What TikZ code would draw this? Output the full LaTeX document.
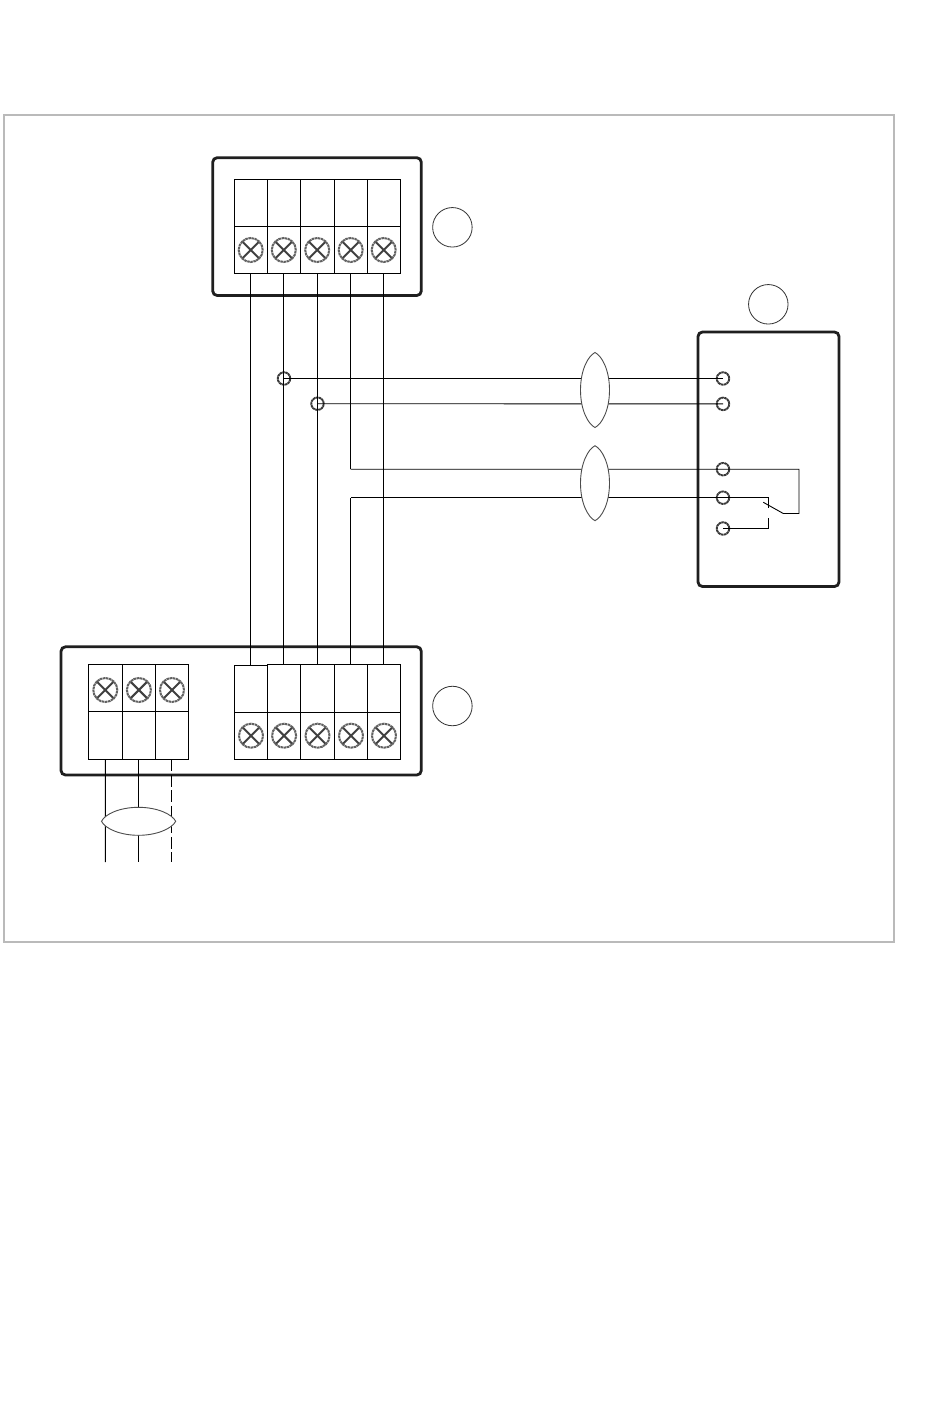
\documentclass[tikz,border=0pt]{standalone}
\usetikzlibrary{shapes.geometric}
\tikzset{
  framebox/.style={draw=black!27,line width=2pt},
  housing/.style={draw=black!88,line width=2.8pt,rounded corners=4.5pt},
  cellbox/.style={draw=black,line width=.9pt,rectangle,inner sep=0pt,outer sep=0pt},
  tcell/.style={cellbox,minimum height=46.7pt},
  wire/.style={draw=black,line width=.9pt},
  dashwire/.style={wire,dash pattern=on 12pt off 3.5pt},
  refcircle/.style={circle,draw=black!80,line width=.8pt,minimum size=39.5pt,inner sep=0pt},
  screwhead/.style={circle,draw=black!62,line width=2pt,dash pattern=on 2.5pt off .6pt,minimum size=24pt,inner sep=0pt,
    path picture={
      \draw[black!75,line width=2pt,solid] (path picture bounding box.north west)++(3.5pt,-3.5pt) -- ([shift={(-3.5pt,3.5pt)}]path picture bounding box.south east);
      \draw[black!75,line width=2pt,solid] (path picture bounding box.north east)++(-3.5pt,-3.5pt) -- ([shift={(3.5pt,3.5pt)}]path picture bounding box.south west);
    }},
  terminal/.style={circle,draw=black!78,line width=1.9pt,dash pattern=on 2.5pt off .5pt,minimum size=12.5pt,inner sep=0pt},
  lens/.style={draw=black!70,line width=.9pt,fill=white},
}
\newcommand{\vlens}[2]{%
  \path[lens] (#1,#2-37.5) .. controls (#1-7,#2-34) and (#1-14.5,#2-20) .. (#1-14.5,#2)
    .. controls (#1-14.5,#2+20) and (#1-7,#2+34) .. (#1,#2+37.5)
    .. controls (#1+7,#2+34) and (#1+14.5,#2+20) .. (#1+14.5,#2)
    .. controls (#1+14.5,#2-20) and (#1+7,#2-34) .. (#1,#2-37.5) -- cycle;}
\begin{document}
\begin{tikzpicture}[x=1pt,y=-1pt]
\useasboundingbox (0,0) rectangle (950,1409);
\fill[white] (0,0) rectangle (950,1409);
% outer frame
\draw[framebox] (3.7,114.7) rectangle (893.7,942);
% housings
\draw[housing] (212.7,157.7) rectangle (421.3,295.5);
\draw[housing] (61,646.8) rectangle (421.3,775);
\draw[housing] (698,332) rectangle (839,586.5);
% reference circles
\node[refcircle] (refA) at (452.4,227.3) {};
\node[refcircle] (refB) at (768.3,304.3) {};
\node[refcircle] (refC) at (452.4,706) {};
% top block
\foreach \n/\c/\w in {1/251/33.4,2/284.1/32.8,3/317.5/34,4/351/33,5/384/33}{
  \node[tcell,minimum width=\w pt] (ta\n) at (\c,203) {};
  \node[tcell,minimum width=\w pt] (tb\n) at (\c,249.8) {};
  \node[screwhead] (ts\n) at (\c-.3,250) {};
}
% bottom right block
\node[cellbox,minimum width=33.4pt,minimum height=46.7pt] (ba1) at (251,688.7) {};
\foreach \n/\c/\w in {2/284.1/32.8,3/317.5/34,4/351/33,5/384/33}{
  \node[cellbox,minimum width=\w pt,minimum height=47.7pt] (ba\n) at (\c,688.2) {};
}
\foreach \n/\c/\w in {1/251/33.4,2/284.1/32.8,3/317.5/34,4/351/33,5/384/33}{
  \node[cellbox,minimum width=\w pt,minimum height=47.3pt] (bb\n) at (\c,735.7) {};
  \node[screwhead] (bs\n) at (\c,735.7) {};
}
% bottom left block
\foreach \n/\c/\w in {1/105.3/34,2/138.9/33.2,3/172/33}{
  \node[cellbox,minimum width=\w pt,minimum height=47.2pt] (la\n) at (\c,687.9) {};
  \node[cellbox,minimum width=\w pt,minimum height=47.8pt] (lb\n) at (\c,735.4) {};
  \node[screwhead] (ls\n) at (\c,690) {};
}
% named free ends
\coordinate (w4a) at (350.6,469.2);
\coordinate (w4b) at (350.6,497.7);
\coordinate (t1a) at (250.6,273.3);
\coordinate (t2a) at (283.6,273.3);
\coordinate (t3a) at (317,273.3);
\coordinate (t4a) at (350.6,273.3);
\coordinate (t5a) at (383.6,273.3);
\coordinate (b1a) at (250.6,665.3);
\coordinate (b2a) at (283.6,664.3);
\coordinate (b3a) at (317,664.3);
\coordinate (b4a) at (350.6,664.3);
\coordinate (b5a) at (383.6,664.3);
% terminals
\node[terminal] (j1) at (284,378.5) {};
\node[terminal] (j2) at (317.5,403.7) {};
\node[terminal] (r1) at (723,378.5) {};
\node[terminal] (r2) at (723,403.9) {};
\node[terminal] (r3) at (723,469.2) {};
\node[terminal] (r4) at (723,497.7) {};
\node[terminal] (r5) at (723,528.5) {};
% vertical wires
\draw[wire] (t1a) -- (b1a);
\draw[wire] (t2a) -- (b2a);
\draw[wire] (t3a) -- (b3a);
\draw[wire] (t5a) -- (b5a);
\draw[wire] (t4a) -- (w4a);
\draw[wire] (b4a) -- (w4b);
% horizontal wires
\draw[wire] (j1.center) -- (r1.center);
\draw[wire] (j2.center) -- (r2.center);
\coordinate (sw1) at (799,469.2);
\coordinate (sw2) at (799,513.5);
\coordinate (sw3) at (783.3,513.5);
\coordinate (sw4) at (763.3,502.3);
\coordinate (sw5) at (768.7,497.7);
\coordinate (sw6) at (768.7,508);
\coordinate (sw7) at (768.7,518);
\coordinate (sw8) at (768.7,528.5);
\draw[wire] (w4a) -- (r3.center) -- (sw1) -- (sw2) -- (sw3) -- (sw4);
\draw[wire] (w4b) -- (r4.center) -- (sw5) -- (sw6);
\draw[wire] (r5.center) -- (sw8) -- (sw7);
% lower cable
\coordinate (c1) at (105.4,862);
\coordinate (c2) at (138.4,862);
\coordinate (c3) at (171.6,862);
\draw[wire] ([xshift=.1pt]lb1.south) -- (c1);
\draw[wire] ([xshift=-.5pt]lb2.south) -- (c2);
\draw[dashwire] ([xshift=-.4pt]lb3.south) -- (c3);
% cable lenses
\vlens{595}{390}
\vlens{595}{483.2}
\path[lens] (101.5,821.3) .. controls (105,814) and (120,807.3) .. (138.5,807.3)
  .. controls (157,807.3) and (172,814) .. (175.7,821.3)
  .. controls (172,828.5) and (157,835.3) .. (138.5,835.3)
  .. controls (120,835.3) and (105,828.5) .. (101.5,821.3) -- cycle;
\end{tikzpicture}
\end{document}
